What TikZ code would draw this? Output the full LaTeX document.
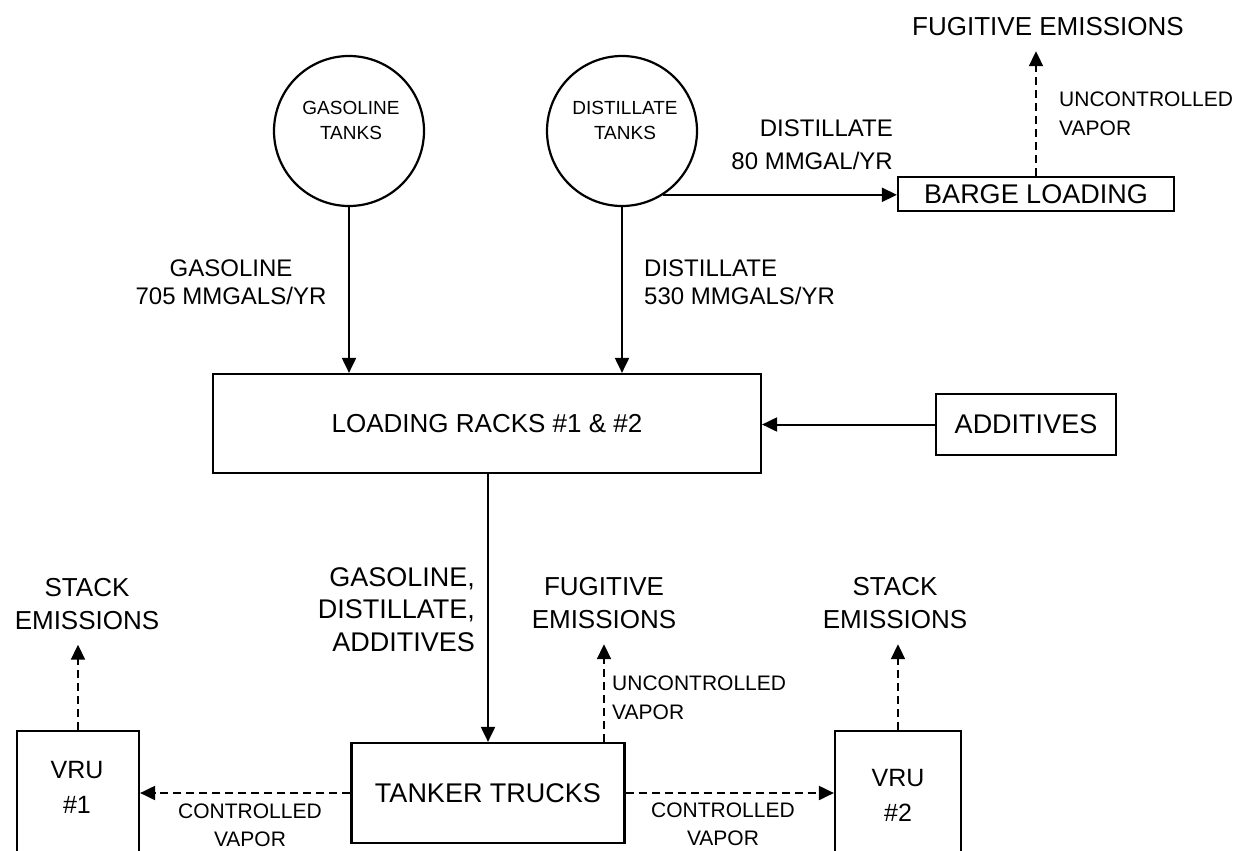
\documentclass[tikz,border=0pt]{standalone}
\usepackage{fontspec}
\setmainfont{Liberation Sans}
\usetikzlibrary{arrows.meta}
\newcommand{\myfs}[2]{\fontsize{#1}{#2}\selectfont}
\begin{document}
\begin{tikzpicture}[x=1pt,y=-1pt,
  box/.style={draw,line width=2.2pt,inner sep=0pt},
  tank/.style={draw,circle,line width=2.2pt,minimum size=150pt,inner sep=0pt},
  txt/.style={inner sep=0pt},
  emis/.style={txt,align=center,outer ysep=15pt,font=\myfs{26}{33}},
  flow/.style={line width=2pt,-{Triangle[length=15pt,width=14pt]}},
  vapour/.style={flow,dash pattern=on 8pt off 5pt}]
\useasboundingbox (0,0) rectangle (1240,851);
\clip (0,0) rectangle (1240,851);

% tanks
\node[tank] (gas) at (349,131) {};
\node[tank] (dist) at (622,131) {};
\node[txt,align=center,font=\myfs{19}{25}] (gastxt) at (351,120.5) {GASOLINE\\TANKS};
\node[txt,align=center,font=\myfs{19}{25}] (disttxt) at (625,120.5) {DISTILLATE\\TANKS};

% boxes
\node[box,minimum width=548pt,minimum height=99pt,font=\myfs{26}{30}] (racks) at (487,423.5) {LOADING RACKS \#1 \& \#2};
\node[box,minimum width=180pt,minimum height=61pt,font=\myfs{27}{32}] (add) at (1026,424.5) {ADDITIVES};
\node[box,minimum width=276pt,minimum height=34pt,font=\myfs{27}{32}] (barge) at (1036,194) {BARGE LOADING};
\node[box,minimum width=273pt,minimum height=100pt,font=\myfs{27}{32}] (trucks) at (488,793) {TANKER TRUCKS};
\node[box,minimum width=122pt,minimum height=180pt,anchor=north] (vru1) at (78,730) {};
\node[box,minimum width=126pt,minimum height=180pt,anchor=north] (vru2) at (898,730) {};
\node[txt,align=center,font=\myfs{25}{35}] (vru1txt) at (77,787.5) {VRU\\\#1};
\node[txt,align=center,font=\myfs{25}{35}] (vru2txt) at (898,795.5) {VRU\\\#2};

% emission labels
\node[emis] (fug1) at (1048,27) {FUGITIVE EMISSIONS};
\node[emis] (stack1) at (87,604) {STACK\\EMISSIONS};
\node[emis] (fug2) at (604,603.5) {FUGITIVE\\EMISSIONS};
\node[emis] (stack2) at (895,603.5) {STACK\\EMISSIONS};

% flow labels
\node[txt,align=center,font=\myfs{24}{28}] (gaslbl) at (231,282.5) {GASOLINE\\705 MMGALS/YR};
\node[txt,align=left,anchor=west,font=\myfs{24}{28}] (distlbl) at (644,282.5) {DISTILLATE\\530 MMGALS/YR};
\node[txt,align=right,anchor=east,font=\myfs{24}{33}] (bargelbl) at (893,144.5) {DISTILLATE\\80 MMGAL/YR};
\node[txt,align=left,anchor=west,font=\myfs{21}{29}] (unc1) at (1059,113.5) {UNCONTROLLED\\VAPOR};
\node[txt,align=right,anchor=east,font=\myfs{27}{32.5}] (mixlbl) at (475,609.5) {GASOLINE,\\DISTILLATE,\\ADDITIVES};
\node[txt,align=left,anchor=west,font=\myfs{21}{29}] (unc2) at (612,697.5) {UNCONTROLLED\\VAPOR};
\node[txt,align=center,font=\myfs{21}{28}] (ctl1) at (250,825) {CONTROLLED\\VAPOR};
\node[txt,align=center,font=\myfs{21}{28}] (ctl2) at (723,824) {CONTROLLED\\VAPOR};

% connectors
\draw[flow] (gas.south) -- (gas.south |- racks.north);
\draw[flow] (dist.south) -- (dist.south |- racks.north);
\draw[flow] (dist.-57) -- (dist.-57 -| barge.west);
\draw[flow] (add.west) -- (add.west -| racks.east);
\draw[flow] (racks.south -| trucks.north) -- (trucks.north);
\draw[vapour] (trucks.west) -- (trucks.west -| vru1.east);
\draw[vapour] (trucks.east) -- (trucks.east -| vru2.west);
\draw[vapour] (vru1.north) -- (stack1.south -| vru1.north);
\draw[vapour] (vru2.north) -- (stack2.south -| vru2.north);
\draw[vapour] (fug2.south |- trucks.north) -- (fug2.south);
\draw[vapour] (barge.north) -- (fug1.south -| barge.north);
\end{tikzpicture}
\end{document}
